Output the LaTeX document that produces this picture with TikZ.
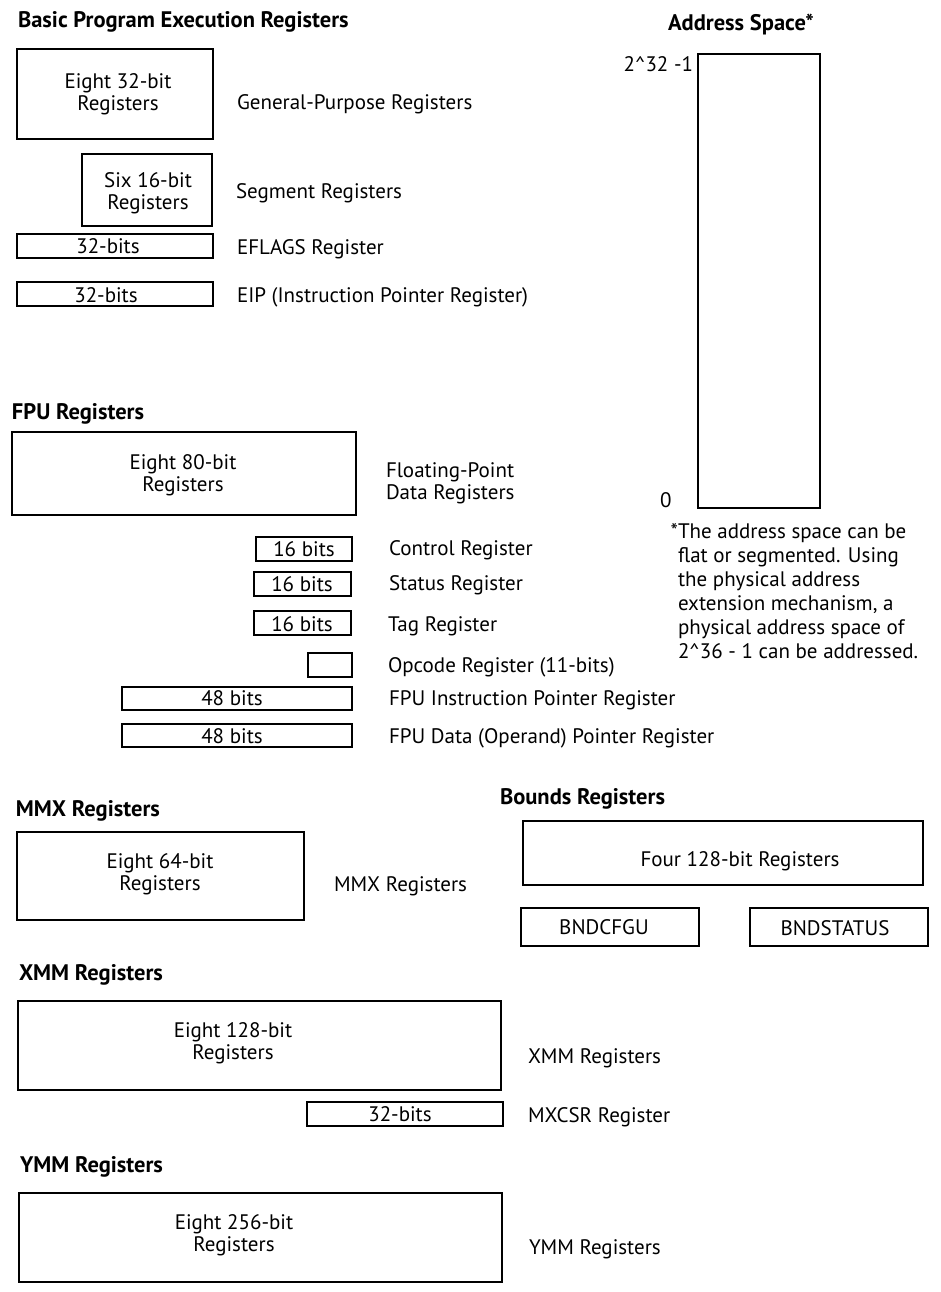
\documentclass[tikz,border=0pt]{standalone}
\usepackage{fontspec}
\setmainfont{PT Sans}
\begin{document}
\begin{tikzpicture}[x=1pt,y=-1pt,
  every node/.style={inner sep=0pt, outer sep=0pt, font=\fontsize{21}{22}\selectfont},
  reg/.style={draw, line width=1.8pt, rectangle},
  lbl/.style={anchor=base west},
  inbox/.style={anchor=base},
  hdr/.style={anchor=base west, font=\fontsize{22.5}{24}\selectfont\bfseries},
  two/.style={align=center, anchor=center},
]
\useasboundingbox (0,0) rectangle (941,1292);

% ---------- Basic program execution registers
\node[hdr] (hbasic) at (18,28) {Basic Program Execution Registers};
\node[reg, minimum width=196pt, minimum height=90pt] (gpr) at (115,94) {};
\node[two] (gprt) at (118,94.5) {Eight 32-bit\\Registers};
\node[lbl] (gprl) at (237,110) {General-Purpose Registers};

\node[reg, minimum width=130pt, minimum height=72pt] (seg) at (147,190) {};
\node[two] (segt) at (148,193) {Six 16-bit\\Registers};
\node[lbl] (segl) at (236,198) {Segment Registers};

\node[reg, minimum width=196pt, minimum height=24pt] (efl) at (115,246) {};
\node[inbox] (eflt) at (108,253) {32-bits};
\node[lbl] (efll) at (237,254) {EFLAGS Register};

\node[reg, minimum width=196pt, minimum height=24pt] (eip) at (115,294) {};
\node[inbox] (eipt) at (106,302) {32-bits};
\node[lbl] (eipl) at (237,302) {EIP (Instruction Pointer Register)};

% ---------- Address space
\node[anchor=base, font=\fontsize{22.5}{24}\selectfont\bfseries] (haddr) at (741,31) {Address Space*};
\node[reg, minimum width=122pt, minimum height=454pt] (addr) at (759,281) {};
\node[anchor=base east] (atop) at (693,72) {2\textasciicircum 32 -1};
\node[anchor=base west] (abot) at (660,507) {0};
\node[anchor=north west, align=left, font=\fontsize{21}{24}\selectfont] (note) at (678,523)
  {\llap{*}The address space can be\\flat or segmented. Using\\the physical address\\extension mechanism, a\\physical address space of\\2\textasciicircum 36 - 1 can be addressed.};

% ---------- FPU registers
\node[hdr] (hfpu) at (12,419) {FPU Registers};
\node[reg, minimum width=344pt, minimum height=83pt] (fpu) at (184,473.5) {};
\node[two] (fput) at (183,475) {Eight 80-bit\\Registers};
\node[anchor=west, align=left] (fpul) at (386,483.5) {Floating-Point\\Data Registers};

\node[reg, minimum width=96pt, minimum height=24pt] (ctl) at (304,549) {};
\node[inbox] (ctlt) at (304,556) {16 bits};
\node[lbl] (ctll) at (389,555) {Control Register};

\node[reg, minimum width=97pt, minimum height=24pt] (sts) at (302.5,584) {};
\node[inbox] (stst) at (302,591) {16 bits};
\node[lbl] (stsl) at (389,590) {Status Register};

\node[reg, minimum width=97pt, minimum height=24pt] (tag) at (302.5,623) {};
\node[inbox] (tagt) at (302,631) {16 bits};
\node[lbl] (tagl) at (388,631) {Tag Register};

\node[reg, minimum width=44pt, minimum height=24pt] (opc) at (330,665) {};
\node[lbl] (opcl) at (388,672) {Opcode Register (11-bits)};

\node[reg, minimum width=230pt, minimum height=23pt] (fip) at (237,698.5) {};
\node[inbox] (fipt) at (232,705) {48 bits};
\node[lbl] (fipl) at (389,705) {FPU Instruction Pointer Register};

\node[reg, minimum width=230pt, minimum height=23pt] (fdp) at (237,735.5) {};
\node[inbox] (fdpt) at (232,743) {48 bits};
\node[lbl] (fdpl) at (389,743) {FPU Data (Operand) Pointer Register};

% ---------- MMX registers
\node[hdr] (hmmx) at (16,816) {MMX Registers};
\node[reg, minimum width=287pt, minimum height=88pt] (mmx) at (160.5,876) {};
\node[two] (mmxt) at (160,874) {Eight 64-bit\\Registers};
\node[lbl] (mmxl) at (334,891) {MMX Registers};

% ---------- Bounds registers
\node[hdr] (hbnd) at (500,804) {Bounds Registers};
\node[reg, minimum width=400pt, minimum height=64pt] (bnd) at (723,853) {};
\node[inbox] (bndt) at (740,866) {Four 128-bit Registers};
\node[reg, minimum width=178pt, minimum height=38pt] (cfg) at (610,927) {};
\node[inbox] (cfgt) at (604,934) {BNDCFGU};
\node[reg, minimum width=178pt, minimum height=38pt] (bst) at (839,927) {};
\node[inbox] (bstt) at (835,935) {BNDSTATUS};

% ---------- XMM registers
\node[hdr] (hxmm) at (19,980) {XMM Registers};
\node[reg, minimum width=483pt, minimum height=89pt] (xmm) at (259.5,1045.5) {};
\node[two] (xmmt) at (233,1043) {Eight 128-bit\\Registers};
\node[lbl] (xmml) at (528,1063) {XMM Registers};

\node[reg, minimum width=196pt, minimum height=24pt] (mxc) at (405,1114) {};
\node[inbox] (mxct) at (400,1121) {32-bits};
\node[lbl] (mxcl) at (528,1122) {MXCSR Register};

% ---------- YMM registers
\node[hdr] (hymm) at (20,1172) {YMM Registers};
\node[reg, minimum width=483pt, minimum height=89pt] (ymm) at (260.5,1237.5) {};
\node[two] (ymmt) at (234,1235) {Eight 256-bit\\Registers};
\node[lbl] (ymml) at (529,1254) {YMM Registers};
\end{tikzpicture}
\end{document}
